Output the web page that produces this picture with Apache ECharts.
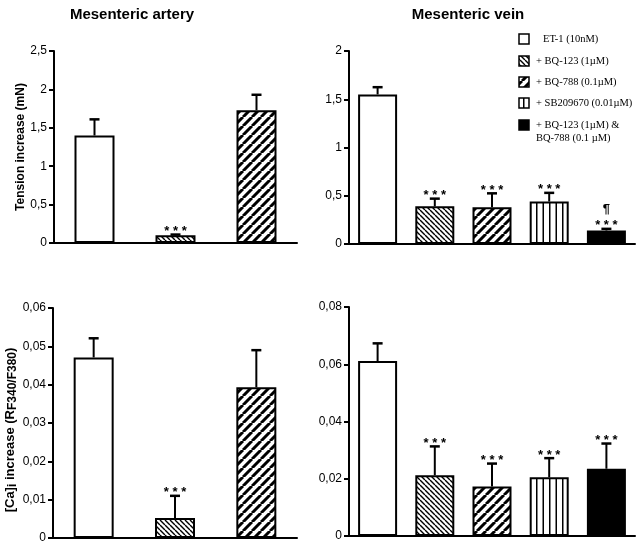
<!DOCTYPE html>
<html><head><meta charset="utf-8">
<script src="https://cdn.jsdelivr.net/npm/echarts/dist/echarts.min.js"></script>
<style>html,body{margin:0;padding:0;background:#fff}#c{width:640px;height:545px}</style>
</head><body><div id="c"></div>
<script>
// ---- data ----
const arteryCategories = ['ET-1', 'BQ-123', 'BQ-788'];
const veinCategories = ['ET-1', 'BQ-123', 'BQ-788', 'SB209670', 'BQ-123 & BQ-788'];
const arteryTension = [1.40, 0.10, 1.73];
const arteryTensionErr = [0.21, 0.01, 0.20];
const veinTension = [1.55, 0.39, 0.38, 0.44, 0.14];
const veinTensionErr = [0.075, 0.08, 0.145, 0.09, 0.017];
const arteryCa = [0.0471, 0.0052, 0.0393];
const arteryCaErr = [0.0050, 0.0058, 0.0097];
const veinCa = [0.0611, 0.0212, 0.0173, 0.0205, 0.0235];
const veinCaErr = [0.0062, 0.0101, 0.0080, 0.0067, 0.0088];
const arteryTensionMarks = ['', '* * *', ''];
const veinTensionMarks = ['', '* * *', '* * *', '* * *', '¶\n* * *'];
const arteryCaMarks = ['', '* * *', ''];
const veinCaMarks = ['', '* * *', '* * *', '* * *', '* * *'];
const legendLabels = ['ET-1 (10nM)', '+ BQ-123 (1µM)', '+ BQ-788 (0.1µM)', '+ SB209670 (0.01µM)', '+ BQ-123 (1µM) &\nBQ-788 (0.1 µM)'];
const panelTitles = ['Mesenteric artery', 'Mesenteric vein'];
const tensionTicks = { artery: [0, 2.5, 0.5], vein: [0, 2, 0.5] };
const caTicks = { artery: [0, 0.06, 0.01], vein: [0, 0.08, 0.02] };

// ---- patterns ----
function hatch(dir, size, lw) {
  const c = document.createElement('canvas'); c.width = c.height = size;
  const g = c.getContext('2d');
  g.fillStyle = '#fff'; g.fillRect(0, 0, size, size);
  g.strokeStyle = '#000'; g.lineWidth = lw; g.beginPath();
  for (let k = -1; k <= 1; k++) {
    if (dir === 'back') { g.moveTo(k * size, 0); g.lineTo(k * size + size, size); }
    else { g.moveTo(k * size, size); g.lineTo(k * size + size, 0); }
  }
  g.stroke();
  return { image: c, repeat: 'repeat' };
}
function vstripe(w, lw) {
  const c = document.createElement('canvas'); c.width = w; c.height = 4;
  const g = c.getContext('2d');
  g.fillStyle = '#fff'; g.fillRect(0, 0, w, 4);
  g.fillStyle = '#000'; g.fillRect(3, 0, lw, 4); g.fillRect(3 + w / 2, 0, lw, 4);
  return { image: c, repeat: 'repeat' };
}
const fills = ['#ffffff', hatch('back', 5, 1.4), hatch('fwd', 9, 3), vstripe(13, 1.5), '#000000'];

const comma = v => String(+v.toFixed(3)).replace('.', ',');

function yAxis(gi, t, name, extra) {
  return Object.assign({
    type: 'value', gridIndex: gi, min: t[0], max: t[1], interval: t[2],
    axisLine: { show: true, lineStyle: { color: '#000', width: 2 } },
    axisTick: { show: true, length: 5, lineStyle: { color: '#000', width: 2 } },
    splitLine: { show: false },
    axisLabel: { formatter: comma, color: '#000', fontSize: 12, fontFamily: 'Liberation Sans', margin: 7 },
    name: name, nameLocation: 'middle', nameRotate: 90, nameGap: 27,
    nameTextStyle: { color: '#000', fontSize: 12, fontWeight: 'bold', fontFamily: 'Liberation Sans' }
  }, extra || {});
}
function xAxis(gi, cats) {
  return {
    type: 'category', gridIndex: gi, data: cats,
    axisLine: { show: true, lineStyle: { color: '#000', width: 2 } },
    axisTick: { show: false }, axisLabel: { show: false }, splitLine: { show: false }
  };
}
function bars(gi, vals, bw) {
  return {
    type: 'bar', xAxisIndex: gi, yAxisIndex: gi, barWidth: bw, z: 2,
    data: vals.map((v, i) => ({ value: v, itemStyle: { color: fills[i], borderColor: '#000', borderWidth: 2 } })),
    animation: false
  };
}
function errs(gi, vals, err, marks) {
  return {
    type: 'custom', xAxisIndex: gi, yAxisIndex: gi, z: 5, animation: false,
    data: vals.map((v, i) => [i, v, err[i]]),
    renderItem: function (params, api) {
      const i = api.value(0), v = api.value(1), e = api.value(2);
      const p0 = api.coord([i, v]), p1 = api.coord([i, v + e]);
      const ch = [
        { type: 'line', shape: { x1: p0[0], y1: p0[1], x2: p1[0], y2: p1[1] }, style: { stroke: '#000', lineWidth: 2 } },
        { type: 'line', shape: { x1: p1[0] - 5, y1: p1[1], x2: p1[0] + 5, y2: p1[1] }, style: { stroke: '#000', lineWidth: 2.5 } }
      ];
      const m = marks[params.dataIndex];
      if (m) ch.push({ type: 'text', style: { text: m, x: p1[0], y: p1[1] + 5, align: 'center', verticalAlign: 'bottom', fill: '#000', font: 'bold 13px "Liberation Sans"', lineHeight: 16 } });
      return { type: 'group', children: ch };
    }
  };
}

const graphic = [
  { type: 'text', style: { text: panelTitles[0], x: 132, y: 15, align: 'center', verticalAlign: 'middle', fill: '#000', font: 'bold 15px "Liberation Sans"' } },
  { type: 'text', style: { text: panelTitles[1], x: 468, y: 15, align: 'center', verticalAlign: 'middle', fill: '#000', font: 'bold 15px "Liberation Sans"' } }
];
const rowY = [39, 61, 82, 103, 125];
legendLabels.forEach((lab, i) => {
  graphic.push({ type: 'rect', shape: { x: 519, y: rowY[i] - 5, width: 10, height: 10 }, style: { fill: fills[i], stroke: '#000', lineWidth: 1.5 } });
  graphic.push({ type: 'text', style: { text: lab, x: i === 0 ? 543 : 536, y: rowY[i] - 6, align: 'left', verticalAlign: 'top', fill: '#000', font: '10.5px "Liberation Serif"', lineHeight: 13 } });
});

const option = {
  backgroundColor: '#fff',
  animation: false,
  grid: [
    { left: 54, top: 51, width: 243, height: 192 },
    { left: 349, top: 51, width: 286, height: 193 },
    { left: 53, top: 308, width: 244, height: 230 },
    { left: 349, top: 307, width: 286, height: 229 }
  ],
  xAxis: [xAxis(0, arteryCategories), xAxis(1, veinCategories), xAxis(2, arteryCategories), xAxis(3, veinCategories)],
  yAxis: [
    yAxis(0, tensionTicks.artery, 'Tension increase (mN)'),
    yAxis(1, tensionTicks.vein, ''),
    yAxis(2, caTicks.artery, '{b|[Ca]}{s|i}{b| increase (R}{s|F340/F380}{b|)}', {
      nameTextStyle: {
        color: '#000', fontSize: 13, fontWeight: 'bold', fontFamily: 'Liberation Sans', padding: [0, 14, 0, 0],
        rich: {
          b: { fontSize: 13, fontWeight: 'bold', fontFamily: 'Liberation Sans', lineHeight: 17, verticalAlign: 'middle', color: '#000' },
          s: { fontSize: 12, fontWeight: 'bold', fontFamily: 'Liberation Sans', lineHeight: 12, verticalAlign: 'bottom', color: '#000' }
        }
      }
    }),
    yAxis(3, caTicks.vein, '')
  ],
  series: [
    bars(0, arteryTension, 40), errs(0, arteryTension, arteryTensionErr, arteryTensionMarks),
    bars(1, veinTension, 39), errs(1, veinTension, veinTensionErr, veinTensionMarks),
    bars(2, arteryCa, 40), errs(2, arteryCa, arteryCaErr, arteryCaMarks),
    bars(3, veinCa, 39), errs(3, veinCa, veinCaErr, veinCaMarks)
  ],
  graphic: graphic
};
const chart = echarts.init(document.getElementById('c'), null, { renderer: 'canvas' });
chart.setOption(option);
</script>
</body></html>
